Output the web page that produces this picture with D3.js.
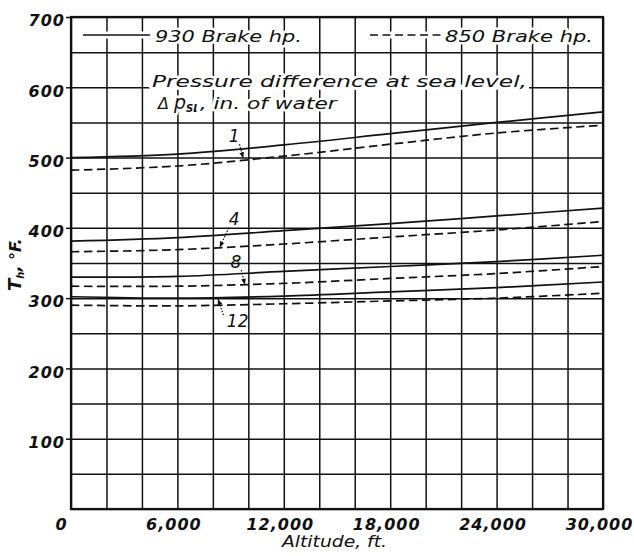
<!DOCTYPE html>
<html>
<head>
<meta charset="utf-8">
<script src="https://cdn.jsdelivr.net/npm/d3@7"></script>
<style>
    body { margin: 0; background: #fff; }
    text { font-family: "DejaVu Sans", sans-serif; fill: #111; }
    .grid line { stroke: #111; stroke-width: 1.5; }
    .grid path { display: none; }
    .tickLabel text { font-size: 16px; font-weight: bold; font-style: oblique; letter-spacing: 1px; }
    .tickLabel path { display: none; }
    .halo { paint-order: stroke; stroke: #fff; stroke-width: 5px; stroke-linejoin: round; }
</style>
</head>
<body>
<script>
(function(){

    //altitude stations for every curve (ft)
    var altitude = [0, 6000, 12000, 18000, 24000, 30000];

    //hot-spot temperature (deg F), 930 brake hp (solid) and 850 brake hp (dashed)
    var dp1_930  = [500, 505, 518, 534, 550, 565];
    var dp1_850  = [482, 488, 502, 519, 535, 546];
    var dp4_930  = [381, 386, 396, 406, 417, 428];
    var dp4_850  = [366, 369, 377, 387, 397, 409];
    var dp8_930  = [330, 331, 338, 345, 352, 361];
    var dp8_850  = [317, 317, 321, 328, 335, 345];
    var dp12_930 = [302, 300, 303, 309, 315, 323];
    var dp12_850 = [290, 289, 292, 296, 300, 307];

    //tick labels
    var xTickValues = [0, 6000, 12000, 18000, 24000, 30000];
    var xTickLabels = ["0", "6,000", "12,000", "18,000", "24,000", "30,000"];
    var yTickValues = [100, 200, 300, 400, 500, 600, 700];

    //curve labels (pressure difference) and their leaders, in data units
    var curveLabels = ["1", "4", "8", "12"];
    var labelAlt    = [9200, 9200, 9300, 9400];
    var labelTemp   = [522, 404, 343, 259];
    var leaderFrom  = [[9500, 519], [8900, 400], [9600, 340], [8600, 276]];
    var leaderTo    = [[9700, 500], [8400, 373], [9800, 320], [8300, 298]];

    var series = [
        {values: dp1_930,  dashed: false},
        {values: dp1_850,  dashed: true},
        {values: dp4_930,  dashed: false},
        {values: dp4_850,  dashed: true},
        {values: dp8_930,  dashed: false},
        {values: dp8_850,  dashed: true},
        {values: dp12_930, dashed: false},
        {values: dp12_850, dashed: true}
    ];

    window.onload = setChart();

    function setChart(){
        var width = 634,
            height = 556,
            left = 71,
            right = 603,
            top = 17,
            bottom = 509;

        var svg = d3.select("body")
            .append("svg")
            .attr("width", width)
            .attr("height", height);

        var defs = svg.append("defs");
        defs.append("marker")
            .attr("id", "arrow")
            .attr("viewBox", "0 0 10 10")
            .attr("refX", 9)
            .attr("refY", 5)
            .attr("markerWidth", 5)
            .attr("markerHeight", 5)
            .attr("orient", "auto")
            .append("path")
            .attr("d", "M0,1 L10,5 L0,9 Z")
            .attr("fill", "#111");

        var x = d3.scaleLinear().domain([0, 30000]).range([left, right]);
        var y = d3.scaleLinear().domain([0, 700]).range([bottom, top]);

        //grid, one line every 2,000 ft and every 50 deg
        svg.append("g")
            .attr("class", "grid")
            .attr("transform", "translate(0," + bottom + ")")
            .call(d3.axisBottom(x).tickValues(d3.range(0, 30001, 2000)).tickSize(-(bottom - top)).tickFormat(""));
        svg.append("g")
            .attr("class", "grid")
            .attr("transform", "translate(" + left + ",0)")
            .call(d3.axisLeft(y).tickValues(d3.range(0, 701, 50)).tickSize(-(right - left)).tickFormat(""));

        //small outside ticks on the labelled values
        svg.append("g")
            .attr("class", "grid")
            .attr("transform", "translate(" + left + ",0)")
            .call(d3.axisLeft(y).tickValues(yTickValues).tickSize(5).tickFormat(""));

        //frame
        svg.append("rect")
            .attr("x", left)
            .attr("y", top)
            .attr("width", right - left)
            .attr("height", bottom - top)
            .attr("fill", "none")
            .attr("stroke", "#111")
            .attr("stroke-width", 2.2);

        //gap in the 600 line behind the note
        svg.append("rect")
            .attr("x", 150)
            .attr("y", y(600) - 2.5)
            .attr("width", 379)
            .attr("height", 5)
            .attr("fill", "#fff");

        //curves
        var line = d3.line()
            .x(function(d, i){ return x(altitude[i]); })
            .y(function(d){ return y(d); })
            .curve(d3.curveCatmullRom.alpha(0.5));

        svg.selectAll(".curve")
            .data(series)
            .enter()
            .append("path")
            .attr("class", "curve")
            .attr("d", function(d){ return line(d.values); })
            .attr("fill", "none")
            .attr("stroke", "#111")
            .attr("stroke-width", 1.7)
            .attr("stroke-dasharray", function(d){ return d.dashed ? "8.5,4.5" : null; });

        //curve labels
        svg.selectAll(".curveLabel")
            .data(curveLabels)
            .enter()
            .append("text")
            .attr("class", "curveLabel")
            .attr("x", function(d, i){ return x(labelAlt[i]); })
            .attr("y", function(d, i){ return y(labelTemp[i]); })
            .attr("text-anchor", "middle")
            .style("font-size", "17px")
            .style("font-style", "oblique")
            .text(function(d){ return d; });

        svg.selectAll(".leader")
            .data(curveLabels)
            .enter()
            .append("line")
            .attr("class", "leader")
            .attr("x1", function(d, i){ return x(leaderFrom[i][0]); })
            .attr("y1", function(d, i){ return y(leaderFrom[i][1]); })
            .attr("x2", function(d, i){ return x(leaderTo[i][0]); })
            .attr("y2", function(d, i){ return y(leaderTo[i][1]); })
            .attr("stroke", "#111")
            .attr("stroke-width", 1.2)
            .attr("stroke-dasharray", "1.5,1.5")
            .attr("marker-end", "url(#arrow)");

        //legend in the top row
        svg.append("line")
            .attr("x1", 83).attr("x2", 150)
            .attr("y1", 35).attr("y2", 35)
            .attr("stroke", "#fff").attr("stroke-width", 7);
        svg.append("line")
            .attr("x1", 83).attr("x2", 150)
            .attr("y1", 35).attr("y2", 35)
            .attr("stroke", "#111").attr("stroke-width", 1.7);
        svg.append("line")
            .attr("x1", 370).attr("x2", 442)
            .attr("y1", 35).attr("y2", 35)
            .attr("stroke", "#fff").attr("stroke-width", 7);
        svg.append("line")
            .attr("x1", 370).attr("x2", 442)
            .attr("y1", 35).attr("y2", 35)
            .attr("stroke", "#111").attr("stroke-width", 1.7)
            .attr("stroke-dasharray", "8,4.5");

        svg.append("text")
            .attr("class", "halo")
            .attr("x", 155).attr("y", 42)
            .attr("textLength", 147).attr("lengthAdjust", "spacingAndGlyphs")
            .style("font-size", "16px").style("font-style", "oblique")
            .text("930 Brake hp.");
        svg.append("text")
            .attr("class", "halo")
            .attr("x", 445).attr("y", 42)
            .attr("textLength", 148).attr("lengthAdjust", "spacingAndGlyphs")
            .style("font-size", "16px").style("font-style", "oblique")
            .text("850 Brake hp.");

        //note
        svg.append("text")
            .attr("class", "halo")
            .attr("x", 152).attr("y", 87)
            .attr("textLength", 375).attr("lengthAdjust", "spacingAndGlyphs")
            .style("font-size", "16px").style("font-style", "oblique")
            .text("Pressure difference at sea level,");
        var note2 = svg.append("text")
            .attr("class", "halo")
            .attr("x", 158).attr("y", 109)
            .style("font-size", "16px").style("font-style", "oblique");
        note2.append("tspan").text("\u0394 ");
        note2.append("tspan").style("font-size", "19px").text("p");
        note2.append("tspan").attr("dy", 3).style("font-size", "10px").style("font-weight", "bold").text("SL");
        note2.append("tspan").attr("dy", -3)
            .attr("textLength", 137).attr("lengthAdjust", "spacingAndGlyphs")
            .text(", in. of water");

        //tick labels
        svg.append("g")
            .attr("class", "tickLabel")
            .attr("transform", "translate(" + left + ",0)")
            .call(d3.axisLeft(y).tickValues(yTickValues).tickSize(0).tickPadding(6))
            .selectAll("text")
            .attr("dy", "0.55em");

        svg.append("g")
            .attr("class", "tickLabel")
            .attr("transform", "translate(0," + bottom + ")")
            .call(d3.axisBottom(x).tickValues(xTickValues).tickSize(0)
                .tickFormat(function(d, i){ return xTickLabels[i]; }))
            .selectAll("text")
            .attr("y", 21)
            .attr("dy", 0)
            .attr("dx", function(d, i){ return i === 0 ? -10 : -4; });

        //axis titles
        svg.append("text")
            .attr("x", 282).attr("y", 547)
            .attr("textLength", 105).attr("lengthAdjust", "spacingAndGlyphs")
            .style("font-size", "16px").style("font-style", "oblique")
            .text("Altitude, ft.");

        var yTitle = svg.append("text")
            .attr("transform", "translate(21,291) rotate(-90)")
            .style("font-size", "16px").style("font-style", "oblique").style("font-weight", "bold");
        yTitle.append("tspan").style("font-size", "18px").text("T");
        yTitle.append("tspan").attr("dy", 3).style("font-size", "10px").text("h");
        yTitle.append("tspan").attr("dy", -3).text(", \u00b0F.");
    };
})();
</script>
</body>
</html>
